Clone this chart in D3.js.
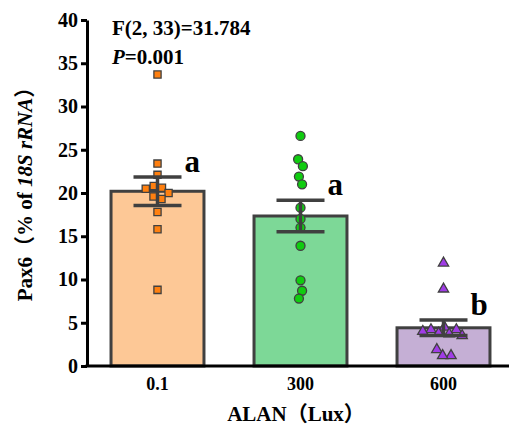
<!DOCTYPE html>
<html>
<head>
<meta charset="utf-8">
<script src="https://cdn.jsdelivr.net/npm/d3@7"></script>
<style>
  body { margin: 0; background: #fff; }
  text { font-family: "Liberation Serif", "Noto Sans CJK SC", serif; font-weight: bold; }
</style>
</head>
<body>
<div id="chart"></div>
<script>
// groups on the x axis
var groups = ["0.1", "300", "600"];
// individual samples (% of 18S rRNA)
var lux01 = [33.7, 23.4, 22.1, 20.8, 20.6, 20.5, 20.0, 19.6, 19.3, 17.8, 15.8, 8.8];
var lux300 = [26.6, 23.9, 23.1, 21.9, 21.0, 18.3, 17.0, 16.0, 13.9, 9.9, 8.7, 7.8];
var lux600 = [11.9, 8.9, 4.5, 4.2, 4.2, 4.0, 3.8, 3.7, 3.5, 1.9, 1.2, 1.2];
var letters = ["a", "a", "b"];
var yTicks = [0, 5, 10, 15, 20, 25, 30, 35, 40];

var samples = [lux01, lux300, lux600];
var barFill = ["#FDC896", "#7DD897", "#C5AFD5"];
var dotFill = ["#FF8010", "#10CC10", "#A03CE6"];
var shapes = [d3.symbolSquare, d3.symbolCircle, d3.symbolTriangle];
var shapeSize = [52, 64, 46];
var dark = "#404040";

var width = 509, height = 428;
var margin = {top: 20, left: 87, bottom: 62};
var plotH = height - margin.top - margin.bottom;

var svg = d3.select("#chart").append("svg")
    .attr("width", width)
    .attr("height", height);

var x = d3.scaleBand()
    .domain(groups)
    .range([margin.left, 514])
    .paddingInner(0.35)
    .paddingOuter(0.168);

var y = d3.scaleLinear()
    .domain([0, 40])
    .range([margin.top + plotH, margin.top]);

var stats = samples.map(function(v) {
    var m = d3.mean(v);
    var se = d3.deviation(v) / Math.sqrt(v.length);
    return {mean: m, se: se};
});

// bars
svg.append("g")
    .selectAll("rect")
    .data(groups)
    .enter().append("rect")
    .attr("x", function(d) { return x(d); })
    .attr("y", function(d, i) { return y(stats[i].mean); })
    .attr("width", x.bandwidth())
    .attr("height", function(d, i) { return y(0) - y(stats[i].mean); })
    .style("fill", function(d, i) { return barFill[i]; })
    .style("stroke", dark)
    .style("stroke-width", 3);

// points, spread sideways a little so they don't pile up
groups.forEach(function(g, i) {
    var cx = x(g) + x.bandwidth() / 2;
    var nodes = samples[i].map(function(v) {
        return {v: v, x: cx, fy: y(v)};
    });
    var sim = d3.forceSimulation(nodes)
        .force("x", d3.forceX(cx).strength(0.08))
        .force("c", d3.forceCollide(4.2))
        .stop();
    for (var k = 0; k < 300; k++) sim.tick();

    svg.append("g")
        .selectAll("path")
        .data(nodes)
        .enter().append("path")
        .attr("d", d3.symbol().type(shapes[i]).size(shapeSize[i]))
        .attr("transform", function(d) {
            return "translate(" + d.x + "," + d.fy + ")";
        })
        .style("fill", dotFill[i])
        .style("stroke", dark)
        .style("stroke-width", 1.3);
});

// error bars (mean ± SEM)
var eb = svg.append("g")
    .style("stroke", dark)
    .style("stroke-width", 3.5);

groups.forEach(function(g, i) {
    var cx = x(g) + x.bandwidth() / 2;
    var hi = y(stats[i].mean + stats[i].se);
    var lo = y(stats[i].mean - stats[i].se);
    eb.append("line").attr("x1", cx).attr("x2", cx).attr("y1", hi).attr("y2", lo);
    eb.append("line").attr("x1", cx - 24).attr("x2", cx + 24).attr("y1", hi).attr("y2", hi);
    eb.append("line").attr("x1", cx - 24).attr("x2", cx + 24).attr("y1", lo).attr("y2", lo);

    svg.append("text")
        .attr("x", cx + 27)
        .attr("y", hi - 5)
        .style("font-size", "31px")
        .text(letters[i]);
});

// axes
var yAxis = svg.append("g")
    .attr("transform", "translate(" + margin.left + ",0)")
    .call(d3.axisLeft(y).tickValues(yTicks).tickSize(6).tickSizeOuter(0));
yAxis.selectAll("path, line").style("stroke", "#000").style("stroke-width", 3);
yAxis.selectAll("text")
    .style("font-size", "20px")
    .style("font-family", "Liberation Serif")
    .style("font-weight", "bold")
    .attr("x", -9);

var xAxis = svg.append("g")
    .attr("transform", "translate(0," + y(0) + ")")
    .call(d3.axisBottom(x).tickSize(0).tickSizeOuter(0));
xAxis.select(".domain").attr("d", "M" + (margin.left - 1.5) + ",0H" + width)
    .style("stroke", "#000").style("stroke-width", 3);
xAxis.selectAll("text")
    .attr("y", 11)
    .style("font-size", "18px")
    .style("font-family", "Liberation Serif")
    .style("font-weight", "bold");

// axis titles
svg.append("text")
    .attr("x", 296)
    .attr("y", 421)
    .attr("text-anchor", "middle")
    .style("font-size", "21px")
    .text("ALAN（Lux）");

var yl = svg.append("text")
    .attr("transform", "translate(32,189) rotate(-90)")
    .attr("text-anchor", "middle")
    .style("font-size", "21px");
yl.append("tspan").text("Pax6（% of ");
yl.append("tspan").style("font-style", "italic").text("18S rRNA");
yl.append("tspan").text("）");

// stats annotation
svg.append("text")
    .attr("x", 112)
    .attr("y", 35)
    .style("font-size", "21px")
    .text("F(2, 33)=31.784");
var pt = svg.append("text")
    .attr("x", 112)
    .attr("y", 64)
    .style("font-size", "21px");
pt.append("tspan").style("font-style", "italic").text("P");
pt.append("tspan").text("=0.001");
</script>
</body>
</html>
